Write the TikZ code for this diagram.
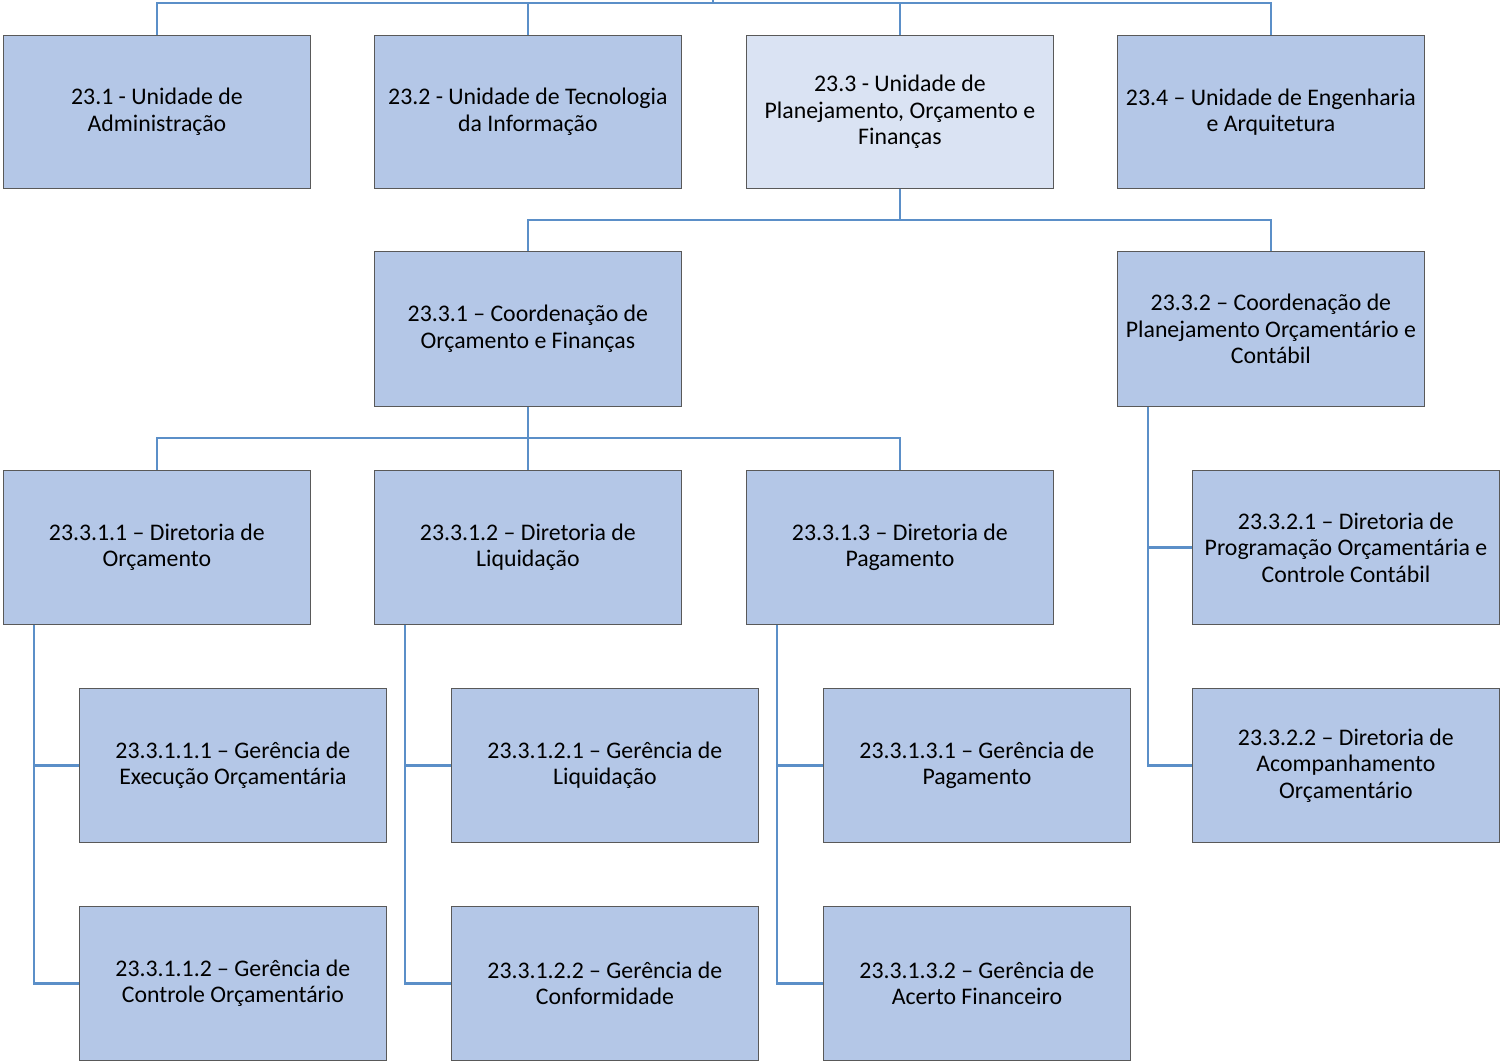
\documentclass[tikz,border=0pt]{standalone}
\usepackage{fontspec}
\setmainfont{Carlito}
\definecolor{boxfill}{HTML}{B4C7E7}
\definecolor{boxfilllight}{HTML}{DAE3F3}
\definecolor{boxedge}{HTML}{595959}
\definecolor{conn}{HTML}{5B8FC8}
\begin{document}
\begin{tikzpicture}[x=1pt,y=-1pt,
  orgbox/.style={draw=boxedge,line width=0.8pt,fill=boxfill,minimum width=307pt,minimum height=153pt,inner sep=0pt,align=center,font=\fontsize{23.8}{26.5}\selectfont,anchor=north west},
  link/.style={draw=conn,line width=2.8pt}]
\useasboundingbox (0,0) rectangle (1501,1061);
% row 1
\node[orgbox] (a1) at (3,35) {23.1 - Unidade de\\Administração};
\node[orgbox] (a2) at (374,35) {23.2 - Unidade de Tecnologia\\da Informação};
\node[orgbox,fill=boxfilllight] (a3) at (746,35) {23.3 - Unidade de\\Planejamento, Orçamento e\\Finanças};
\node[orgbox] (a4) at (1117,35) {23.4 – Unidade de Engenharia\\e Arquitetura};
% row 2
\node[orgbox,minimum height=155pt] (b1) at (374,251) {23.3.1 – Coordenação de\\Orçamento e Finanças};
\node[orgbox,minimum height=155pt] (b2) at (1117,251) {23.3.2 – Coordenação de\\Planejamento Orçamentário e\\Contábil};
% row 3
\node[orgbox,minimum height=154pt] (c1) at (3,470) {23.3.1.1 – Diretoria de\\Orçamento};
\node[orgbox,minimum height=154pt] (c2) at (374,470) {23.3.1.2 – Diretoria de\\Liquidação};
\node[orgbox,minimum height=154pt] (c3) at (746,470) {23.3.1.3 – Diretoria de\\Pagamento};
\node[orgbox,minimum height=154pt] (d1) at (1192,470) {23.3.2.1 – Diretoria de\\Programação Orçamentária e\\Controle Contábil};
% row 4
\node[orgbox,minimum height=154pt] (e1) at (79,688) {23.3.1.1.1 – Gerência de\\Execução Orçamentária};
\node[orgbox,minimum height=154pt] (e2) at (451,688) {23.3.1.2.1 – Gerência de\\Liquidação};
\node[orgbox,minimum height=154pt] (e3) at (823,688) {23.3.1.3.1 – Gerência de\\Pagamento};
\node[orgbox,minimum height=154pt] (d2) at (1192,688) {23.3.2.2 – Diretoria de\\Acompanhamento\\Orçamentário};
% row 5
\node[orgbox,minimum height=154pt] (f1) at (79,906) {23.3.1.1.2 – Gerência de\\Controle Orçamentário};
\node[orgbox,minimum height=154pt] (f2) at (451,906) {23.3.1.2.2 – Gerência de\\Conformidade};
\node[orgbox,minimum height=154pt] (f3) at (823,906) {23.3.1.3.2 – Gerência de\\Acerto Financeiro};
% connectors
\coordinate (top) at (713,-2);
\draw[link] (top) -- (713,3);
\draw[link] (a1.north) |- (713,3) -| (a4.north);
\draw[link] (a2.north) -- ++(0,-32);
\draw[link] (a3.north) -- ++(0,-32);
\draw[link] (a3.south) -- ++(0,32);
\draw[link] (b1.north) |- (899,220) -| (b2.north);
\draw[link] (b1.south) -- (c2.north);
\draw[link] (c1.north) |- (528,438) -| (c3.north);
% 23.3.2 children
\draw[link] ([xshift=31pt]b2.south west) |- (d2.west);
\draw[link] ([xshift=31pt]b2.south west |- d1.west) -- (d1.west);
% 23.3.1.x children
\draw[link] ([xshift=31pt]c1.south west) |- (f1.west);
\draw[link] ([xshift=31pt]c1.south west |- e1.west) -- (e1.west);
\draw[link] ([xshift=31pt]c2.south west) |- (f2.west);
\draw[link] ([xshift=31pt]c2.south west |- e2.west) -- (e2.west);
\draw[link] ([xshift=31pt]c3.south west) |- (f3.west);
\draw[link] ([xshift=31pt]c3.south west |- e3.west) -- (e3.west);
\end{tikzpicture}
\end{document}
